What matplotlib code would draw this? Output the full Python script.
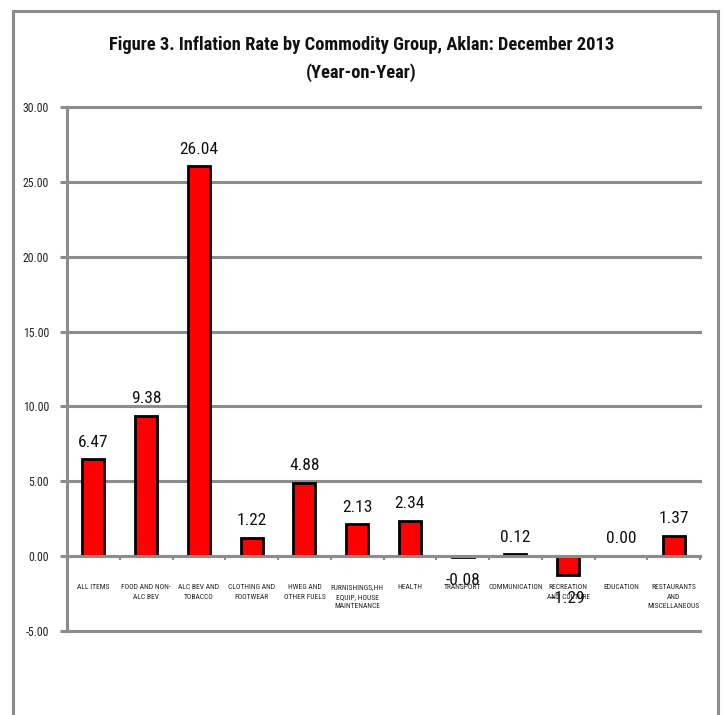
import matplotlib
matplotlib.use("Agg")
import matplotlib.pyplot as plt
from matplotlib.patches import Rectangle
from matplotlib.ticker import FixedLocator, FormatStrFormatter
from matplotlib import font_manager as fm
import numpy as np

categories = [
    "ALL ITEMS",
    "FOOD AND NON-\nALC BEV",
    "ALC BEV AND\nTOBACCO",
    "CLOTHING AND\nFOOTWEAR",
    "HWEG AND\nOTHER FUELS",
    "FURNISHINGS,HH\nEQUIP, HOUSE\nMAINTENANCE",
    "HEALTH",
    "TRANSPORT",
    "COMMUNICATION",
    "RECREATION\nAND CULTURE",
    "EDUCATION",
    "RESTAURANTS\nAND\nMISCELLANEOUS",
]
values = [6.47, 9.38, 26.04, 1.22, 4.88, 2.13, 2.34, -0.08, 0.12, -1.29, 0.00, 1.37]
yticks = [-5, 0, 5, 10, 15, 20, 25, 30]
title = "Figure 3. Inflation Rate by Commodity Group, Aklan: December 2013\n(Year-on-Year)"


def find_condensed(bold):
    cands = []
    for f in fm.fontManager.ttflist:
        fn = f.fname.lower()
        nm = f.name.lower()
        narrow = ('narrow' in fn or 'condensed' in fn or 'narrow' in nm or 'condensed' in nm
                  or str(f.stretch) in ('condensed', 'semi-condensed', '500', '600', '700'))
        if not narrow:
            continue
        if 'italic' in fn or 'oblique' in fn or f.style != 'normal':
            continue
        w = f.weight if isinstance(f.weight, int) else (700 if 'bold' in str(f.weight) else 400)
        if bold and w < 600:
            continue
        if not bold and w >= 600:
            continue
        if 'liberation' in fn and 'narrow' in fn:
            score = 0
        elif 'arial' in fn:
            score = 0
        elif 'roboto' in fn:
            score = 1
        elif 'dejavu' in fn:
            score = 2
        else:
            score = 3
        cands.append((score, f.fname))
    cands.sort()
    return fm.FontProperties(fname=cands[0][1]) if cands else None


reg = find_condensed(False)
bold = find_condensed(True)
if reg is None:
    reg = fm.FontProperties(family='Liberation Sans')
if bold is None:
    bold = fm.FontProperties(family='Liberation Sans', weight='bold')


def fp(base, size):
    p = base.copy()
    p.set_size(size)
    return p


GRAY = '#8c8c8c'
W, H = 723, 715
fig = plt.figure(figsize=(W / 100, H / 100), dpi=100)
ax = fig.add_axes([67 / W, (H - 631) / H, 633 / W, 524 / H])

x = np.arange(len(values))
lws = [2.0 if v != 0 else 0 for v in values]
ax.bar(x, values, width=0.42, color='#ff0000', edgecolor='black',
       linewidth=lws, zorder=3)

ax.set_xlim(-0.5, len(values) - 0.5)
ax.set_ylim(yticks[0], yticks[-1])
ax.set_yticks(yticks)
ax.yaxis.set_major_formatter(FormatStrFormatter('%.2f'))
ax.yaxis.grid(True, color=GRAY, linewidth=2.2, zorder=0)
ax.set_axisbelow(True)
for gl in ax.yaxis.get_gridlines():
    gl.set_clip_on(False)

for s in ['top', 'right']:
    ax.spines[s].set_visible(False)
ax.spines['left'].set_color(GRAY)
ax.spines['left'].set_linewidth(2.2)
ax.spines['bottom'].set_position(('data', 0))
ax.spines['bottom'].set_color(GRAY)
ax.spines['bottom'].set_linewidth(2.2)
ax.spines['bottom'].set_zorder(4)

ax.tick_params(axis='y', direction='out', length=5, width=2.2, color=GRAY, pad=8)
for lbl in ax.get_yticklabels():
    lbl.set_fontproperties(fp(reg, 8.5))
    lbl.set_color('#222222')

ax.set_xticks(x)
ax.set_xticklabels(categories, linespacing=1.55)
for lbl in ax.get_xticklabels():
    lbl.set_fontproperties(fp(reg, 5.4))
    lbl.set_color('#222222')
ax.tick_params(axis='x', which='major', length=0, pad=20)
ax.xaxis.set_minor_locator(FixedLocator(np.arange(-0.5, len(values), 1.0)))
ax.tick_params(axis='x', which='minor', direction='out', length=3, width=1.5, color=GRAY)

for xi, v in zip(x, values):
    if v >= 0:
        ax.annotate(f"{v:.2f}", (xi, v), xytext=(0, 7), textcoords='offset points',
                    ha='center', va='bottom', fontproperties=fp(reg, 12.5),
                    color='#111111', zorder=5)
    else:
        ax.annotate(f"{v:.2f}", (xi, v), xytext=(0, -11), textcoords='offset points',
                    ha='center', va='top', fontproperties=fp(reg, 12.5),
                    color='#111111', zorder=5)

fig.text(0.5, 1 - 59 / H, title, ha='center', va='center',
         fontproperties=fp(bold, 13.3), linespacing=1.65, color='#111111')

border = Rectangle((13 / W, -0.2), (718 - 13) / W, (H - 11) / H + 0.2,
                   transform=fig.transFigure, fill=False, edgecolor=GRAY,
                   linewidth=2.2, clip_on=False)
fig.patches.append(border)

fig.savefig("out.png", dpi=100)
